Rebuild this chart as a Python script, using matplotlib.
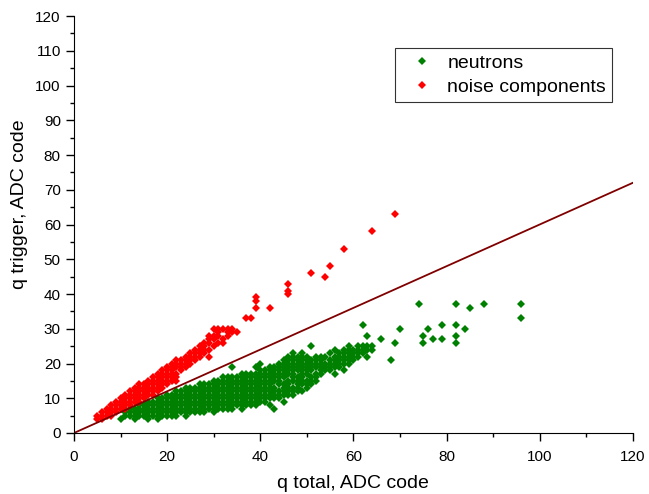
import matplotlib
matplotlib.use("Agg")
import matplotlib.pyplot as plt
from matplotlib.ticker import MultipleLocator

plt.rcParams['font.family'] = ['Liberation Sans', 'DejaVu Sans']

# neutrons: x (ADC code) -> list of q trigger codes
neutron_cols = {
    10: [4],
    11: [5, 6],
    12: [5, 6, 7],
    13: [4, 5, 6, 7],
    14: [5, 6, 7, 8],
    15: [5, 6, 7, 8],
    16: [4, 5, 6, 7, 8, 9],
    17: [5, 6, 7, 8, 9],
    18: [4, 5, 6, 7, 8, 9, 10],
    19: [5, 6, 7, 8, 9, 10],
    20: [5, 6, 7, 8, 9, 10, 11],
    21: [5, 6, 7, 8, 9, 10, 11],
    22: [5, 6, 7, 8, 9, 10, 11, 12],
    23: [6, 7, 8, 9, 10, 11, 12],
    24: [5, 6, 7, 8, 9, 10, 11, 12, 13],
    25: [6, 7, 8, 9, 10, 11, 12, 13],
    26: [6, 7, 8, 9, 10, 11, 12, 13],
    27: [6, 7, 8, 9, 10, 11, 12, 13, 14],
    28: [6, 7, 8, 9, 10, 11, 12, 13, 14],
    29: [7, 8, 9, 10, 11, 12, 13, 14],
    30: [6, 7, 8, 9, 10, 11, 12, 13, 14, 15],
    31: [7, 8, 9, 10, 11, 12, 13, 14, 15],
    32: [7, 8, 9, 10, 11, 12, 13, 14, 15, 16],
    33: [7, 8, 9, 10, 11, 12, 13, 14, 15, 16],
    34: [7, 8, 9, 10, 11, 12, 13, 14, 15, 16, 19],
    35: [8, 9, 10, 11, 12, 13, 14, 15, 16],
    36: [7, 8, 9, 10, 11, 12, 13, 14, 15, 16, 17],
    37: [8, 9, 10, 11, 12, 13, 14, 15, 16, 17],
    38: [8, 9, 10, 11, 12, 13, 14, 15, 16, 17],
    39: [8, 9, 10, 11, 12, 13, 14, 15, 16, 17, 19],
    40: [9, 10, 11, 12, 13, 14, 15, 16, 17, 18, 20],
    41: [9, 10, 11, 12, 13, 14, 15, 16, 17, 18],
    42: [8, 10, 11, 12, 13, 14, 15, 16, 17, 18, 19],
    43: [7, 10, 11, 12, 13, 15, 16, 17, 18, 19],
    44: [10, 11, 12, 14, 15, 16, 17, 18, 19, 20],
    45: [9, 11, 12, 13, 14, 16, 17, 18, 19, 20, 21],
    46: [11, 12, 13, 14, 15, 17, 18, 19, 20, 21, 22],
    47: [11, 12, 13, 15, 16, 17, 18, 19, 20, 21, 22, 23],
    48: [12, 13, 14, 15, 16, 18, 19, 20, 21, 22],
    49: [12, 14, 15, 16, 17, 18, 19, 20, 21, 22, 23],
    50: [13, 14, 15, 17, 18, 19, 20, 21, 22],
    51: [14, 15, 16, 18, 19, 20, 21, 25],
    52: [15, 16, 17, 19, 20, 21, 22],
    53: [17, 18, 19, 20, 21, 22],
    54: [18, 19, 20, 22],
    55: [18, 19, 20, 21, 23],
    56: [17, 19, 20, 21, 22, 24],
    57: [19, 20, 21, 22, 23],
    58: [18, 20, 21, 22, 23, 24],
    59: [20, 21, 22, 23, 24, 25],
    60: [21, 22, 23, 24],
    61: [22, 23, 24, 25],
    62: [23, 24, 25, 31],
    63: [22, 24, 25, 28],
    64: [24, 25],
    66: [27],
    68: [21],
    69: [26],
    70: [30],
    74: [37],
    75: [26, 28],
    76: [30],
    77: [27],
    79: [27, 31],
    82: [26, 28, 31, 37],
    84: [30],
    85: [36],
    88: [37],
    96: [33, 37],
}

# noise components
noise_cols = {
    5: [4, 5],
    6: [4, 5, 6],
    7: [5, 6, 7],
    8: [5, 6, 7, 8],
    9: [6, 7, 8, 9],
    10: [7, 8, 9, 10],
    11: [7, 8, 9, 10, 11],
    12: [8, 9, 10, 11, 12],
    13: [9, 10, 11, 12, 13],
    14: [9, 10, 11, 12, 13, 14],
    15: [10, 11, 12, 13, 14],
    16: [11, 12, 13, 14, 15],
    17: [11, 12, 13, 14, 15, 16],
    18: [12, 13, 14, 15, 16, 17],
    19: [13, 14, 15, 16, 17, 18],
    20: [14, 15, 16, 17, 18, 19],
    21: [15, 16, 17, 18, 19, 20],
    22: [15, 16, 17, 19, 20, 21],
    23: [18, 19, 20, 21],
    24: [19, 20, 21, 22],
    25: [20, 21, 22, 23],
    26: [21, 22, 23, 24],
    27: [22, 23, 24, 25],
    28: [23, 24, 25, 26],
    29: [22, 24, 26, 27, 28],
    30: [25, 27, 28, 30],
    31: [26, 28, 29, 30],
    32: [26, 27, 30],
    33: [28, 29, 30],
    34: [29, 30],
    35: [29],
    37: [33],
    38: [33],
    39: [36, 38, 39],
    42: [36],
    46: [40, 41, 43],
    51: [46],
    54: [45],
    55: [48],
    58: [53],
    64: [58],
    69: [63],
}

# separating line
line_x = [0, 120]
line_y = [0, 72]

nx = [x for x, ys in neutron_cols.items() for y in ys]
ny = [y for x, ys in neutron_cols.items() for y in ys]
rx = [x for x, ys in noise_cols.items() for y in ys]
ry = [y for x, ys in noise_cols.items() for y in ys]

fig = plt.figure(figsize=(6.49, 4.94), dpi=100)
ax = fig.add_axes([0.114, 0.1235, 0.861, 0.844])

ax.plot(nx, ny, linestyle='none', marker='D', ms=4.4, color='#008000',
        markeredgewidth=0, label='neutrons')
ax.plot(rx, ry, linestyle='none', marker='D', ms=4.4, color='#ff0000',
        markeredgewidth=0, label='noise components')
ax.plot(line_x, line_y, color='#800000', lw=1.3)

ax.set_xlim(0, 120)
ax.set_ylim(0, 120)
ax.xaxis.set_major_locator(MultipleLocator(20))
ax.xaxis.set_minor_locator(MultipleLocator(10))
ax.yaxis.set_major_locator(MultipleLocator(10))
ax.yaxis.set_minor_locator(MultipleLocator(5))
ax.spines['top'].set_visible(False)
ax.spines['right'].set_visible(False)
ax.tick_params(which='major', direction='out', length=6, width=1, labelsize=11)
ax.tick_params(which='minor', direction='out', length=3, width=1)
ax.tick_params(axis='x', which='major', pad=6)

ax.set_xlabel('q total, ADC code', fontsize=14)
ax.set_ylabel('q trigger, ADC code', fontsize=14)
ax.xaxis.set_label_coords(0.5, -0.1)
ax.yaxis.set_label_coords(-0.082, 0.549)

leg = ax.legend(loc='upper left', bbox_to_anchor=(0.574, 0.923), fontsize=14,
                frameon=True, fancybox=False, edgecolor='black', markerscale=0.85,
                handlelength=2.2, borderpad=0.3, labelspacing=0.35,
                borderaxespad=0, handletextpad=0.2)
leg.get_frame().set_linewidth(0.8)

fig.savefig('out.png', dpi=100)
